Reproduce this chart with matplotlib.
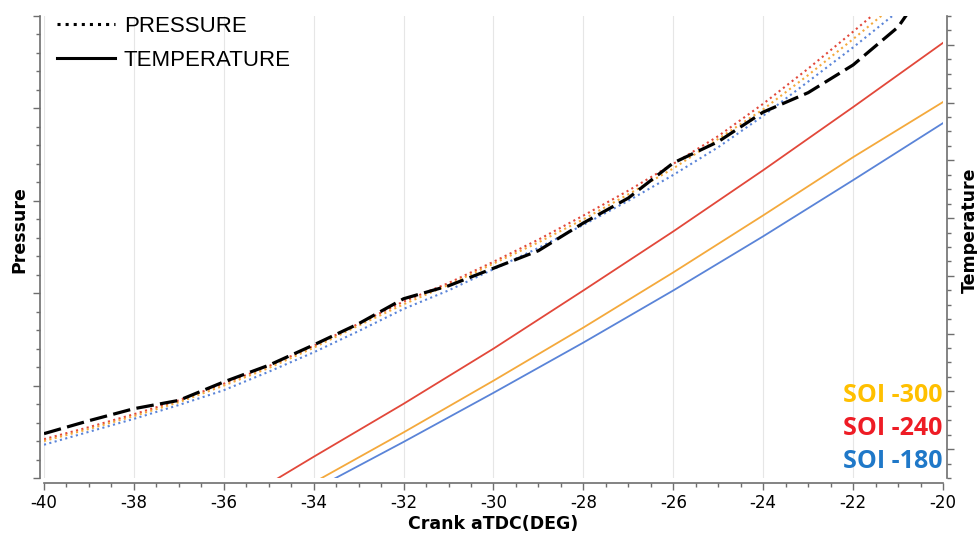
import matplotlib.pyplot as plt
from matplotlib.lines import Line2D
from matplotlib.ticker import MultipleLocator, FixedLocator

plt.rcParams['axes.unicode_minus'] = False

# crank angle grid for the pressure traces
crank_p = [-40, -39, -38, -37, -36, -35, -34, -33, -32, -31,
           -30, -29, -28, -27, -26, -25, -24, -23, -22, -21]
p_soi300 = [0.40, 0.53, 0.67, 0.82, 1.00, 1.19, 1.41, 1.65, 1.88, 2.09,
            2.32, 2.55, 2.80, 3.07, 3.35, 3.67, 3.99, 4.36, 4.75, 5.15]
p_soi240 = [0.42, 0.55, 0.69, 0.84, 1.02, 1.21, 1.43, 1.67, 1.91, 2.11,
            2.34, 2.58, 2.84, 3.11, 3.40, 3.70, 4.05, 4.43, 4.83, 5.24]
p_soi180 = [0.36, 0.50, 0.64, 0.79, 0.95, 1.15, 1.36, 1.59, 1.83, 2.03,
            2.26, 2.49, 2.74, 3.00, 3.28, 3.58, 3.92, 4.29, 4.66, 5.05]

# measured trace (black dashed)
crank_m = [-40, -39, -38, -37, -36, -35, -34, -33, -32, -31,
           -30, -29, -28, -27, -26, -25, -24, -23, -22, -21, -20.5]
p_meas = [0.48, 0.62, 0.75, 0.84, 1.04, 1.22, 1.44, 1.67, 1.94, 2.08,
          2.27, 2.46, 2.76, 3.03, 3.41, 3.64, 3.96, 4.17, 4.47, 4.88, 5.23]

# temperature traces (right axis)
crank_t = [-35, -34, -32, -30, -28, -26, -24, -22, -20]
t_soi240 = [-0.4, 1.47, 5.14, 8.96, 12.99, 17.08, 21.32, 25.69, 30.14]
t_soi300 = [-1.5, -0.31, 3.16, 6.74, 10.42, 14.24, 18.19, 22.22, 26.04]
t_soi180 = [-2.0, -0.81, 2.50, 5.90, 9.38, 12.99, 16.74, 20.63, 24.58]

soi_labels = ['SOI -300', 'SOI -240', 'SOI -180']

c_red = '#e2483a'
c_orange = '#f4a93c'
c_blue = '#5a84d8'
spine_c = '#6e6e6e'

fig = plt.figure(figsize=(9.78, 5.33), dpi=100)
ax = fig.add_axes([0.045, 0.1032, 0.9192, 0.8668])
ax2 = ax.twinx()

ax.plot(crank_p, p_soi240, ':', color=c_red, lw=1.5)
ax.plot(crank_p, p_soi300, ':', color=c_orange, lw=1.5)
ax.plot(crank_p, p_soi180, ':', color=c_blue, lw=1.5)
ax.plot(crank_m, p_meas, color='black', lw=2.3, dashes=(5.5, 2))

ax2.plot(crank_t, t_soi240, color=c_red, lw=1.3)
ax2.plot(crank_t, t_soi300, color=c_orange, lw=1.3)
ax2.plot(crank_t, t_soi180, color=c_blue, lw=1.3)

ax.set_xlim(-40, -20)
ax.set_ylim(0, 5)
ax2.set_ylim(0, 32)

ax.xaxis.set_major_locator(MultipleLocator(2))
ax.xaxis.set_minor_locator(MultipleLocator(0.5))
ax.yaxis.set_major_locator(MultipleLocator(1))
ax.yaxis.set_minor_locator(MultipleLocator(0.2))
ax2.yaxis.set_major_locator(FixedLocator(range(2, 32, 4)))
ax2.yaxis.set_minor_locator(MultipleLocator(1))

ax.set_yticklabels([])
ax2.set_yticklabels([])
ax.xaxis.grid(True, color='#e6e6e6', lw=0.8)
ax.set_axisbelow(True)

for a in (ax, ax2):
    a.spines['top'].set_visible(False)
    for s in a.spines.values():
        s.set_color(spine_c)
        s.set_linewidth(1.2)
    a.tick_params(which='major', direction='out', length=5, width=1, color=spine_c)
    a.tick_params(which='minor', direction='out', length=3, width=1, color=spine_c)
ax.spines['right'].set_visible(False)
ax2.spines['left'].set_visible(False)
ax2.spines['bottom'].set_visible(False)
ax.spines['left'].set_position(('outward', 3))
ax.spines['bottom'].set_position(('outward', 3.5))
ax2.spines['right'].set_position(('outward', 3))

ax.tick_params(axis='x', which='major', labelsize=12, pad=3)

lab_font = dict(fontsize=12.5, fontweight='bold', family='DejaVu Sans')
ax.set_xlabel('Crank aTDC(DEG)', labelpad=2, **lab_font)
ax.set_ylabel('Pressure', **lab_font)
ax2.set_ylabel('Temperature', rotation=90, **lab_font)
ax.yaxis.set_label_coords(-0.017, 0.537)
ax2.yaxis.set_label_coords(1.020, 0.537)

handles = [Line2D([], [], color='black', ls=':', lw=2.2),
           Line2D([], [], color='black', ls='-', lw=2.2)]
ax.legend(handles, ['PRESSURE', 'TEMPERATURE'], loc='upper left',
          frameon=False, handlelength=2.6, handletextpad=0.4,
          labelspacing=0.6, borderaxespad=0.0, borderpad=0.1,
          bbox_to_anchor=(0.012, 1.005),
          prop={'family': 'Liberation Sans', 'size': 16})

for lab, col, yy in zip(soi_labels, ['#ffc000', '#ee1c25', '#1f78c8'],
                        [0.178, 0.107, 0.035]):
    ax.text(0.999, yy, lab, transform=ax.transAxes, ha='right', va='center',
            color=col, fontsize=18, fontweight='bold', family='Open Sans')

fig.savefig('out.png', dpi=100)
